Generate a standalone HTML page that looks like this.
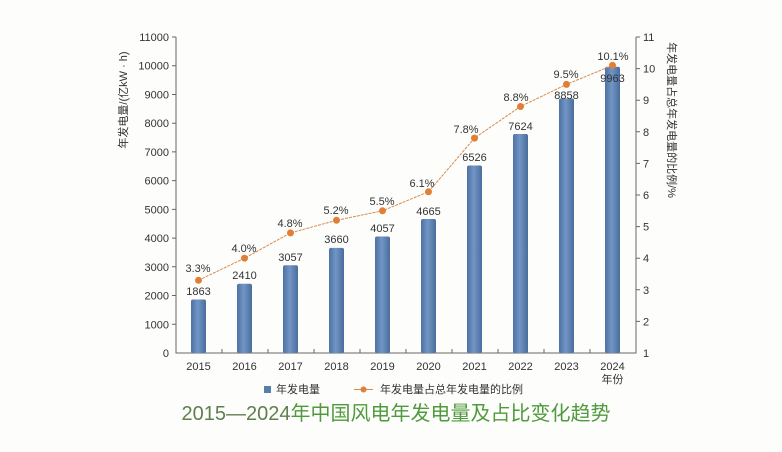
<!DOCTYPE html>
<html><head><meta charset="utf-8"><style>
html,body{margin:0;padding:0;background:#fff;}
svg{display:block;font-family:"Liberation Sans","Noto Sans CJK SC",sans-serif;}
</style></head><body>
<svg width="782" height="452" viewBox="0 0 782 452" xmlns="http://www.w3.org/2000/svg">
<defs>
<linearGradient id="bg" x1="0" x2="1" y1="0" y2="0">
<stop offset="0" stop-color="#4d72a3"/><stop offset="0.45" stop-color="#7195c4"/><stop offset="1" stop-color="#4a6d9c"/>
</linearGradient>
</defs>
<rect width="782" height="452" fill="#fdfdfc"/>
<g stroke="#666" stroke-width="1" fill="none">
<path d="M176,37V353H636V37"/>
<path d="M172,37H176M172,65.7H176M172,94.5H176M172,123.2H176M172,151.9H176M172,180.6H176M172,209.4H176M172,238.1H176M172,266.8H176M172,295.5H176M172,324.3H176"/>
<path d="M636,37H640M636,68.6H640M636,100.2H640M636,131.8H640M636,163.4H640M636,195H640M636,226.6H640M636,258.2H640M636,289.8H640M636,321.4H640"/>
<path d="M222,353V349M268,353V349M314,353V349M360,353V349M406,353V349M452,353V349M498,353V349M544,353V349M590,353V349"/>
</g>
<g font-size="11" fill="#333" text-anchor="end">
<text x="169" y="41">11000</text><text x="169" y="69.7">10000</text><text x="169" y="98.5">9000</text><text x="169" y="127.2">8000</text><text x="169" y="155.9">7000</text><text x="169" y="184.6">6000</text><text x="169" y="213.4">5000</text><text x="169" y="242.1">4000</text><text x="169" y="270.8">3000</text><text x="169" y="299.5">2000</text><text x="169" y="328.3">1000</text><text x="169" y="357">0</text>
</g>
<g font-size="11" fill="#333">
<text x="643" y="41">11</text><text x="643" y="72.6">10</text><text x="643" y="104.2">9</text><text x="643" y="135.8">8</text><text x="643" y="167.4">7</text><text x="643" y="199">6</text><text x="643" y="230.6">5</text><text x="643" y="262.2">4</text><text x="643" y="293.8">3</text><text x="643" y="325.4">2</text><text x="643" y="357">1</text>
</g>
<text transform="translate(127,100) rotate(-90)" font-size="11" fill="#333" text-anchor="middle">年发电量/(亿kW · h)</text>
<text transform="translate(668,120) rotate(90)" font-size="11" fill="#333" text-anchor="middle">年发电量占总年发电量的比例/%</text>
<g fill="url(#bg)">
<rect x="191" y="299.5" width="15" height="53.5" rx="2"/>
<rect x="237" y="283.8" width="15" height="69.2" rx="2"/>
<rect x="283" y="265.2" width="15" height="87.8" rx="2"/>
<rect x="329" y="247.9" width="15" height="105.1" rx="2"/>
<rect x="375" y="236.5" width="15" height="116.5" rx="2"/>
<rect x="421" y="219" width="15" height="134" rx="2"/>
<rect x="467" y="165.5" width="15" height="187.5" rx="2"/>
<rect x="513" y="134" width="15" height="219" rx="2"/>
<rect x="559" y="98.5" width="15" height="254.5" rx="2"/>
<rect x="605" y="66.8" width="15" height="286.2" rx="2"/>
</g>
<g font-size="11" fill="#333" text-anchor="middle">
<text x="198.5" y="295">1863</text><text x="244.5" y="279">2410</text><text x="290.5" y="261">3057</text><text x="336.5" y="243">3660</text><text x="382.5" y="232">4057</text><text x="428.5" y="215">4665</text><text x="474.5" y="161">6526</text><text x="520.5" y="130">7624</text><text x="566.5" y="99">8858</text><text x="612.5" y="82">9963</text>
</g>
<polyline fill="none" stroke="#d98a4a" stroke-width="1" stroke-dasharray="3,1" points="198.5,280.3 244.5,258.2 290.5,232.9 336.5,220.3 382.5,210.8 428.5,191.8 474.5,138.1 520.5,106.5 566.5,84.4 612.5,65.4"/>
<g fill="#e07f35">
<circle cx="198.5" cy="280.3" r="3.5"/><circle cx="244.5" cy="258.2" r="3.5"/><circle cx="290.5" cy="232.9" r="3.5"/><circle cx="336.5" cy="220.3" r="3.5"/><circle cx="382.5" cy="210.8" r="3.5"/><circle cx="428.5" cy="191.8" r="3.5"/><circle cx="474.5" cy="138.1" r="3.5"/><circle cx="520.5" cy="106.5" r="3.5"/><circle cx="566.5" cy="84.4" r="3.5"/><circle cx="612.5" cy="65.4" r="3.5"/>
</g>
<g font-size="11" fill="#333" text-anchor="middle">
<text x="198" y="272">3.3%</text><text x="244" y="252">4.0%</text><text x="290" y="227">4.8%</text><text x="336" y="214">5.2%</text><text x="382" y="205">5.5%</text><text x="422" y="187">6.1%</text><text x="466" y="133">7.8%</text><text x="516" y="101">8.8%</text><text x="566" y="78">9.5%</text><text x="613" y="60">10.1%</text>
</g>
<g font-size="11" fill="#333" text-anchor="middle">
<text x="198.5" y="370">2015</text><text x="244.5" y="370">2016</text><text x="290.5" y="370">2017</text><text x="336.5" y="370">2018</text><text x="382.5" y="370">2019</text><text x="428.5" y="370">2020</text><text x="474.5" y="370">2021</text><text x="520.5" y="370">2022</text><text x="566.5" y="370">2023</text><text x="612.5" y="370">2024</text>
<text x="612.5" y="383">年份</text>
</g>
<rect x="264" y="386" width="7" height="7" fill="#5a7eab"/>
<text x="276" y="393" font-size="11" fill="#333">年发电量</text>
<line x1="354" y1="389.5" x2="373" y2="389.5" stroke="#d98a4a"/>
<circle cx="363.5" cy="389.5" r="3" fill="#e07f35"/>
<text x="380" y="393" font-size="11" fill="#333">年发电量占总年发电量的比例</text>
<text x="396" y="420" font-size="20" text-anchor="middle" fill="#4f9a3c"><tspan fill="#5f7f4f">2015—2024</tspan>年中国风电年发电量及占比变化趋势</text>
</svg>
</body></html>
